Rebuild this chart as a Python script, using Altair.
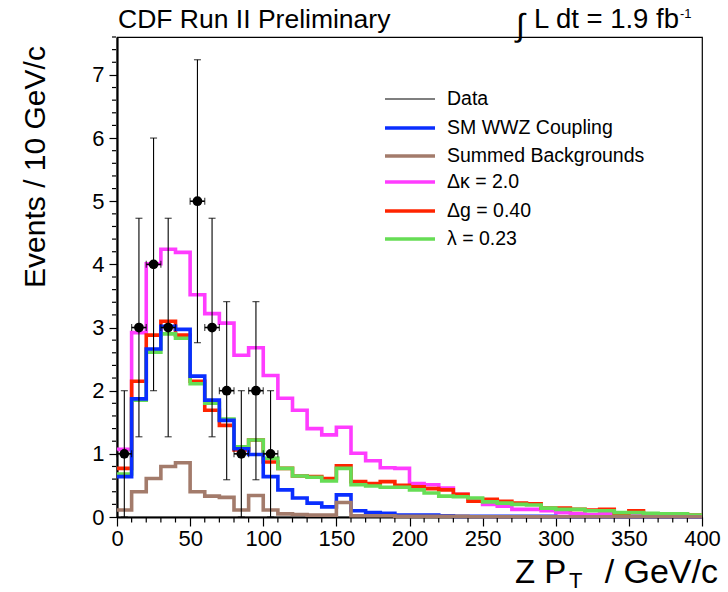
import altair as alt
import pandas as pd

FONT = "Liberation Sans"

# ---------------- data ----------------
edges = list(range(0, 410, 10))  # 40 bins of 10 GeV/c, 0..400

sm_wwz = [0.64, 1.87, 2.66, 3.02, 2.97, 2.23, 1.85, 1.53, 1.08, 0.99,
          0.64, 0.43, 0.30, 0.22, 0.16, 0.35, 0.10, 0.07, 0.06, 0.03,
          0.03, 0.03, 0.02, 0.01, 0.01, 0.01, 0.01, 0.01, 0.01, 0.01,
          0.005, 0.005, 0.005, 0.005, 0.005, 0.005, 0.005, 0.005, 0.005, 0.005]

backgrounds = [0.11, 0.40, 0.61, 0.80, 0.86, 0.40, 0.33, 0.31, 0.11, 0.34,
               0.11, 0.05, 0.04, 0.03, 0.03, 0.23, 0.02, 0.02, 0.02, 0.01,
               0.01, 0.01, 0.01, 0.01, 0.005, 0.005, 0.005, 0.005, 0.005, 0.005,
               0.005, 0.005, 0.005, 0.005, 0.005, 0.005, 0.005, 0.005, 0.005, 0.005]

dkappa = [1.07, 2.92, 4.01, 4.24, 4.19, 3.52, 3.22, 3.07, 2.56, 2.68,
          2.24, 1.88, 1.69, 1.40, 1.30, 1.42, 1.01, 0.89, 0.78, 0.77,
          0.53, 0.51, 0.46, 0.36, 0.28, 0.20, 0.17, 0.12, 0.12, 0.10,
          0.07, 0.05, 0.04, 0.05, 0.03, 0.03, 0.02, 0.02, 0.02, 0.01]

dg = [0.77, 2.15, 2.88, 3.10, 2.88, 2.15, 1.69, 1.45, 1.06, 1.22,
      0.87, 0.77, 0.65, 0.64, 0.61, 0.81, 0.56, 0.53, 0.56, 0.50,
      0.48, 0.45, 0.43, 0.36, 0.25, 0.28, 0.25, 0.22, 0.21, 0.14,
      0.14, 0.12, 0.11, 0.12, 0.05, 0.10, 0.05, 0.04, 0.05, 0.03]

lam = [0.68, 1.85, 2.61, 2.90, 2.83, 2.11, 1.80, 1.55, 1.11, 1.22,
       0.93, 0.77, 0.65, 0.63, 0.57, 0.77, 0.51, 0.49, 0.47, 0.47,
       0.43, 0.38, 0.33, 0.32, 0.30, 0.24, 0.22, 0.20, 0.19, 0.14,
       0.12, 0.12, 0.10, 0.10, 0.07, 0.07, 0.06, 0.05, 0.05, 0.03]

data_x = [5, 15, 25, 35, 55, 65, 75, 85, 95, 105]
data_n = [1, 3, 4, 3, 5, 3, 2, 1, 2, 1]
data_err = [1.0, 1.73, 2.0, 1.73, 2.24, 1.73, 1.41, 1.0, 1.41, 1.0]

x_major = [0, 50, 100, 150, 200, 250, 300, 350, 400]
x_minor = [v for v in range(0, 401, 10) if v % 50 != 0]
y_major = [0, 1, 2, 3, 4, 5, 6, 7]
y_minor = [round(i * 0.2, 1) for i in range(0, 39) if i % 5 != 0]

C_BLUE = "#0a2eff"
C_BROWN = "#a37b6b"
C_MAGENTA = "#ff3cff"
C_RED = "#ff2400"
C_GREEN = "#66dd55"

# ---------------- scales / axes ----------------
XS = alt.Scale(domain=[0, 400], nice=False, zero=False)
YS = alt.Scale(domain=[0, 7.6], nice=False)

X_AXIS = alt.Axis(
    values=x_major, format="d", tickSize=9,
    title=None, grid=False, labelFont=FONT, labelFontSize=22, labelColor="black",
    tickColor="black", tickWidth=1.2, domainColor="black", domainWidth=2.2,
    labelPadding=2, labelFlush=False, labelOverlap=False,
)
Y_AXIS = alt.Axis(
    values=y_major, format="d", tickSize=8,
    title=None, grid=False, labelFont=FONT, labelFontSize=22, labelColor="black",
    tickColor="black", tickWidth=1.2, domainColor="black", domainWidth=2.2,
    labelPadding=5, labelFlush=False, labelOverlap=False,
)


def xq(field):
    return alt.X(field, type="quantitative", scale=XS, axis=X_AXIS)


def yq(field):
    return alt.Y(field, type="quantitative", scale=YS, axis=Y_AXIS)


def hist_layer(vals, color):
    df = pd.DataFrame({"x": edges, "y": vals + [vals[-1]]})
    return alt.Chart(df).mark_line(
        interpolate="step-after", color=color, strokeWidth=3.6,
        strokeCap="butt", strokeJoin="miter",
    ).encode(x=xq("x"), y=yq("y"))


def text_layer(s, x, y, size, align="left", baseline="alphabetic", angle=0):
    return alt.Chart(pd.DataFrame({"t": [s]})).mark_text(
        align=align, baseline=baseline, fontSize=size, font=FONT,
        angle=angle, color="black",
    ).encode(x=alt.value(x), y=alt.value(y), text="t:N")


def legend_entry(label, color, width, y):
    line = alt.Chart(pd.DataFrame({"t": [label]})).mark_rule(
        color=color, strokeWidth=width).encode(
        x=alt.value(268), x2=alt.value(318), y=alt.value(y))
    return [line, text_layer(label, 330, y, 19.5, baseline="middle")]


# minor ticks (outside the frame, like the major ones)
xminor = alt.Chart(pd.DataFrame({"v": x_minor})).mark_rule(
    color="black", strokeWidth=1.2).encode(
    x=xq("v"), y=alt.value(481), y2=alt.value(485.5))
yminor = alt.Chart(pd.DataFrame({"v": y_minor})).mark_rule(
    color="black", strokeWidth=1.2).encode(
    y=yq("v"), x=alt.value(-5), x2=alt.value(-1))

# ---------------- data points with error bars ----------------
ddf = pd.DataFrame({"x": data_x, "n": data_n, "err": data_err})
base = alt.Chart(ddf).transform_calculate(
    lo="datum.n - datum.err", hi="datum.n + datum.err",
    xlo="datum.x - 5", xhi="datum.x + 5",
)
vbar = base.mark_rule(color="black", strokeWidth=1.1).encode(
    x=xq("x"), y=yq("lo"), y2="hi:Q")
hbar = base.mark_rule(color="black", strokeWidth=1.6).encode(
    x=xq("xlo"), x2="xhi:Q", y=yq("n"))
cap_top = base.mark_tick(orient="horizontal", color="black", size=7, thickness=1.2).encode(
    x=xq("x"), y=yq("hi"))
cap_bot = base.mark_tick(orient="horizontal", color="black", size=7, thickness=1.2).encode(
    x=xq("x"), y=yq("lo"))
cap_l = base.mark_tick(orient="vertical", color="black", size=7, thickness=1.2).encode(
    x=xq("xlo"), y=yq("n"))
cap_r = base.mark_tick(orient="vertical", color="black", size=7, thickness=1.2).encode(
    x=xq("xhi"), y=yq("n"))
pts = base.mark_circle(color="black", size=95, opacity=1).encode(
    x=xq("x"), y=yq("n"))

layers = [
    hist_layer(dkappa, C_MAGENTA),
    hist_layer(dg, C_RED),
    hist_layer(lam, C_GREEN),
    hist_layer(sm_wwz, C_BLUE),
    hist_layer(backgrounds, C_BROWN),
    xminor, yminor,
    vbar, hbar, cap_top, cap_bot, cap_l, cap_r, pts,
]

# legend
layers += legend_entry("Data", "black", 1.2, 62)
layers += legend_entry("SM WWZ Coupling", C_BLUE, 3.6, 91)
layers += legend_entry("Summed Backgrounds", C_BROWN, 3.6, 119)
layers += legend_entry("\u0394\u03ba = 2.0", C_MAGENTA, 3.6, 145)
layers += legend_entry("\u0394g = 0.40", C_RED, 3.6, 174)
layers += legend_entry("\u03bb = 0.23", C_GREEN, 3.6, 202)

# titles / annotations
layers += [
    text_layer("CDF Run II Preliminary", 1, -9, 26.5),
    text_layer("\u222b", 399, -1, 32),
    text_layer("L dt = 1.9 fb", 417, -9, 27.5),
    text_layer("-1", 563, -19, 13),
    text_layer("Events / 10 GeV/c", -81, 130, 30, align="center", baseline="middle", angle=270),
    text_layer("Z P", 398, 546, 33),
    text_layer("T", 452, 551, 22),
    text_layer("/ GeV/c", 601, 546, 34, align="right"),
]

chart = alt.layer(*layers).properties(
    width=585, height=480,
    background="white",
    autosize=alt.AutoSizeParams(type="none"),
    padding={"left": 117, "top": 37, "right": 26, "bottom": 75},
).configure_view(stroke="black", strokeWidth=1.2)

chart.save("out.html", embed_options={"renderer": "svg", "actions": False})
